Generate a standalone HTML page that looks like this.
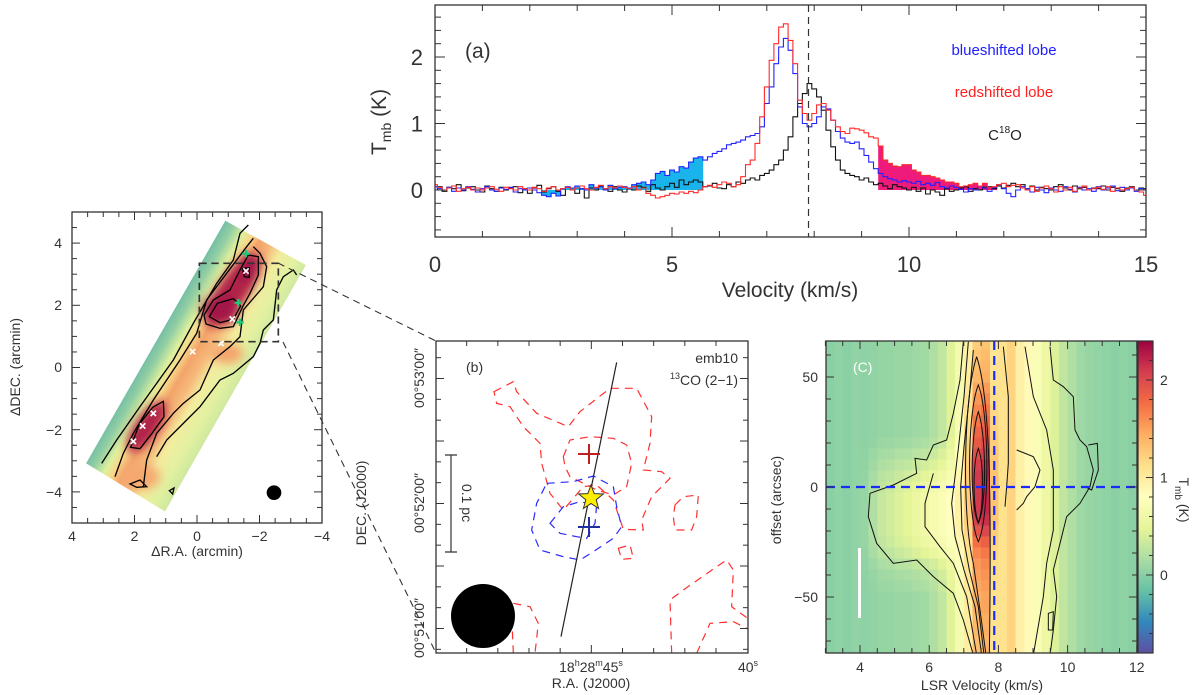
<!DOCTYPE html>
<html><head><meta charset="utf-8"><style>
html,body{margin:0;padding:0;background:#fff;}
svg{display:block;font-family:"Liberation Sans",sans-serif;}
</style></head><body>
<svg id="fig" width="1200" height="695" viewBox="0 0 1200 695" xmlns="http://www.w3.org/2000/svg">
<defs>
 <clipPath id="clipA"><rect x="435" y="5" width="711" height="232"/></clipPath>
 <clipPath id="clipC"><rect x="826" y="341" width="311" height="312"/></clipPath>
 <clipPath id="clipB"><rect x="436" y="341" width="312" height="312"/></clipPath>
 <clipPath id="stripClip"><polygon points="258,790 676,62 918,195 495,935"/></clipPath>
 <linearGradient id="stripGrad" gradientUnits="userSpaceOnUse" x1="462" y1="420" x2="712" y2="565">
  <stop offset="0" stop-color="#6fbca6"/><stop offset="0.12" stop-color="#92cea3"/>
  <stop offset="0.24" stop-color="#dcf09e"/><stop offset="0.33" stop-color="#f9d98a"/>
  <stop offset="0.43" stop-color="#f3a46a"/><stop offset="0.55" stop-color="#f6b97a"/>
  <stop offset="0.68" stop-color="#f3ec9f"/><stop offset="0.85" stop-color="#e2f1a0"/>
  <stop offset="1" stop-color="#cde8a0"/>
 </linearGradient>
 <filter id="blur8"><feGaussianBlur stdDeviation="14"/></filter>
 <linearGradient id="cbGrad" x1="0" y1="1" x2="0" y2="0">
  <stop offset="0" stop-color="#5e4fa2"/><stop offset="0.1" stop-color="#3288bd"/>
  <stop offset="0.2" stop-color="#66c2a5"/><stop offset="0.3" stop-color="#abdda4"/>
  <stop offset="0.4" stop-color="#e6f598"/><stop offset="0.5" stop-color="#ffffbf"/>
  <stop offset="0.6" stop-color="#fee08b"/><stop offset="0.7" stop-color="#fdae61"/>
  <stop offset="0.8" stop-color="#f46d43"/><stop offset="0.9" stop-color="#d53e4f"/>
  <stop offset="1" stop-color="#9e0142"/>
 </linearGradient>
</defs>

<!-- LEFT MAP -->
<g>
 <g transform="translate(0,200) scale(0.33333)">
  <g clip-path="url(#stripClip)">
   <polygon points="258,790 676,62 918,195 495,935" fill="url(#stripGrad)"/>
   <g filter="url(#blur8)">
    <ellipse cx="700" cy="270" rx="45" ry="130" transform="rotate(35 700 270)" fill="#b0204a"/>
    <ellipse cx="660" cy="330" rx="55" ry="45" fill="#a3154a"/>
    <ellipse cx="745" cy="205" rx="30" ry="45" fill="#a3154a"/>
    <ellipse cx="440" cy="680" rx="35" ry="90" transform="rotate(35 440 680)" fill="#b0204a"/>
    <ellipse cx="420" cy="830" rx="60" ry="40" fill="#f5a870"/>
    <ellipse cx="680" cy="460" rx="50" ry="30" fill="#f4a26c"/>
   </g>
  </g>
  <g fill="none" stroke="#000" stroke-width="4">
   <path d="M305,790 L350,720 L420,620 L520,480 L580,370 L650,250 L700,180 L720,100 L745,75"/>
   <path d="M345,830 L370,760 L400,700 L460,600 L540,480 L590,400 L620,300 L680,220 L740,140 L760,115"/>
   <path d="M430,860 L440,780 L470,700 L520,640 L550,610 L600,570 L640,480 L690,440 L720,410 L730,330 L790,260 L800,200 L780,160 L760,140"/>
   <path d="M470,770 L500,720 L560,660 L600,620 L660,540 L700,520 L760,470 L780,430 L790,390 L820,360 L830,270 L850,230 L880,210 L890,225"/>
   <path d="M612,345 L640,300 L690,270 L720,210 L745,165 L775,170 L775,225 L750,280 L728,320 L700,380 L660,385 L618,372 Z"/>
   <path d="M628,350 L652,310 L700,296 L722,318 L700,358 L660,368 Z"/>
   <path d="M733,230 L728,206 L748,203 L748,232 Z"/>
   <path d="M392,742 L418,672 L458,622 L490,604 L492,650 L456,700 L420,746 Z"/>
   <path d="M390,852 L420,840 L440,860 L410,862 Z"/>
   <path d="M508,872 L522,864 L518,882 Z"/>
  </g>
  <g stroke="#fff" stroke-width="5">
   <path d="M730,205l16,16M746,205l-16,16"/><path d="M689,349l16,16M705,349l-16,16"/>
   <path d="M655,422l16,16M671,422l-16,16"/><path d="M570,447l16,16M586,447l-16,16"/>
   <path d="M452,632l16,16M468,632l-16,16"/><path d="M420,670l16,16M436,670l-16,16"/>
   <path d="M392,716l16,16M408,716l-16,16"/>
  </g>
  <g stroke="#1ec87a" stroke-width="7">
   <path d="M738,150v22M727,161h22"/><path d="M715,297v22M704,308h22"/><path d="M720,356v22M709,367h22"/>
  </g>
  <circle cx="822" cy="878" r="22" fill="#000"/>
  <rect x="598" y="190" width="237" height="235" fill="none" stroke="#333" stroke-width="5" stroke-dasharray="22,14"/>
 </g>
 <rect x="72" y="212" width="250" height="311" fill="none" stroke="#333" stroke-width="1.3"/>
 <g id="mapTicks" stroke="#333" stroke-width="1"></g>
 <g font-size="14" fill="#333" text-anchor="middle">
  <text x="72" y="541">4</text><text x="134.5" y="541">2</text><text x="197" y="541">0</text><text x="259.5" y="541">−2</text><text x="322" y="541">−4</text>
 </g>
 <g font-size="14" fill="#333" text-anchor="end">
  <text x="62" y="248">4</text><text x="62" y="310">2</text><text x="62" y="372">0</text><text x="62" y="435">−2</text><text x="62" y="497">−4</text>
 </g>
 <text x="197" y="556" font-size="14" fill="#333" text-anchor="middle">ΔR.A. (arcmin)</text>
 <text transform="translate(20,367) rotate(-90)" font-size="14" fill="#333" text-anchor="middle">ΔDEC. (arcmin)</text>
</g>
<g stroke="#333" stroke-width="1.1" stroke-dasharray="7,5">
 <line x1="278" y1="263" x2="436" y2="341"/><line x1="283" y1="342" x2="436" y2="653"/>
</g>

<!-- PANEL A -->
<g>
 <g id="specFills" clip-path="url(#clipA)"></g>
 <g id="specLines" clip-path="url(#clipA)" fill="none" stroke-width="1.1"></g>
 <rect x="435" y="5" width="711" height="232" fill="none" stroke="#333" stroke-width="1.3"/>
 <g id="aTicks" stroke="#333" stroke-width="1"></g>
 <g id="aLabels" font-size="22" fill="#333"></g>
 <text x="790" y="297" font-size="21" fill="#333" text-anchor="middle">Velocity (km/s)</text>
 <text transform="translate(386,122) rotate(-90)" font-size="21" fill="#333" text-anchor="middle">T<tspan font-size="14" dy="5">mb</tspan><tspan dy="-5"> (K)</tspan></text>
 <text x="465" y="58" font-size="21" fill="#333">(a)</text>
 <text x="1004" y="55" font-size="15" fill="#2020ff" text-anchor="middle">blueshifted lobe</text>
 <text x="1004" y="97" font-size="15" fill="#ff2020" text-anchor="middle">redshifted lobe</text>
 <text x="1005" y="140" font-size="15" fill="#222" text-anchor="middle">C<tspan font-size="10" dy="-7">18</tspan><tspan dy="7">O</tspan></text>
</g>

<!-- PANEL B -->
<g>
 <g clip-path="url(#clipB)">
 <g transform="translate(350,330) scale(0.33333)" fill="none" stroke-width="1.2">
  <g stroke="#ff3030" stroke-dasharray="8,6">
   <path vector-effect="non-scaling-stroke" d="M432,185 L490,155 L500,185 L560,250 L655,290 L690,245 L780,175 L860,175 L905,260 L900,340 L880,420 L935,425 L960,445 L905,500 L875,570 L880,600 L820,598 L790,510 L740,465 L700,470 L640,540 L600,490 L575,400 L570,340 L520,290 L480,230 L440,220 Z"/>
   <path vector-effect="non-scaling-stroke" d="M640,380 L660,330 L720,320 L790,325 L830,345 L845,400 L830,470 L790,495 L740,480 L700,460 L660,440 L645,410 Z"/>
   <path vector-effect="non-scaling-stroke" d="M975,525 L1000,500 L1045,495 L1040,560 L1025,600 L975,600 L970,560 Z"/>
   <path vector-effect="non-scaling-stroke" d="M805,655 L840,645 L850,685 L815,688 Z"/>
   <path vector-effect="non-scaling-stroke" d="M965,970 L960,810 L1000,780 L1100,710 L1130,690 L1150,720 L1145,830 L1200,870"/>
   <path vector-effect="non-scaling-stroke" d="M1040,970 L1080,880 L1150,875 L1200,900"/>
   <path vector-effect="non-scaling-stroke" d="M490,820 L540,830 L565,880 L555,970"/>
   <path vector-effect="non-scaling-stroke" d="M490,970 L487,900"/>
  </g>
  <g stroke="#2a2aff" stroke-dasharray="8,6">
   <path vector-effect="non-scaling-stroke" d="M590,460 L670,455 L730,438 L790,470 L800,530 L815,590 L790,625 L730,665 L690,690 L640,680 L570,660 L545,600 L560,520 Z"/>
   <path vector-effect="non-scaling-stroke" d="M600,580 L640,530 L690,515 L740,525 L735,580 L710,625 L680,620 L630,610 Z"/>
  </g>
  <line x1="800" y1="97" x2="633" y2="920" stroke="#222" vector-effect="non-scaling-stroke"/>
 </g>
 </g>
 <g stroke-width="2">
  <path d="M589,444v20M578,454h22" stroke="#c02020"/>
  <path d="M589,517v20M578,527h22" stroke="#2030a0"/>
 </g>
 <polygon id="star" fill="#ffee00" stroke="#333" stroke-width="1"/>
 <circle cx="483" cy="616" r="32" fill="#000"/>
 <g stroke="#333" stroke-width="1.2"><path d="M451,455v97M445,455h12M445,552h12"/></g>
 <text transform="translate(462,503) rotate(90)" font-size="14" fill="#333" text-anchor="middle">0.1 pc</text>
 <rect x="436" y="341" width="312" height="312" fill="none" stroke="#333" stroke-width="1.3"/>
 <g id="bTicks" stroke="#333" stroke-width="1"></g>
 <text x="466" y="372" font-size="14" fill="#333">(b)</text>
 <text x="738" y="363" font-size="14" fill="#333" text-anchor="end">emb10</text>
 <text x="738" y="385" font-size="14" fill="#333" text-anchor="end"><tspan font-size="9" dy="-6">13</tspan><tspan dy="6">CO (2−1)</tspan></text>
 <g font-size="14" fill="#333" text-anchor="middle">
  <text transform="translate(424,378) rotate(-90)">00°53′00″</text>
  <text transform="translate(424,503) rotate(-90)">00°52′00″</text>
  <text transform="translate(424,628) rotate(-90)">00°51′00″</text>
 </g>
 <text x="591" y="672" font-size="14" fill="#333" text-anchor="middle">18<tspan font-size="9" dy="-6">h</tspan><tspan dy="6">28</tspan><tspan font-size="9" dy="-6">m</tspan><tspan dy="6">45</tspan><tspan font-size="9" dy="-6">s</tspan></text>
 <text x="748" y="672" font-size="14" fill="#333" text-anchor="middle">40<tspan font-size="9" dy="-6">s</tspan></text>
 <text x="591" y="688" font-size="14" fill="#333" text-anchor="middle">R.A. (J2000)</text>
 <text transform="translate(366,503) rotate(-90)" font-size="14" fill="#333" text-anchor="middle">DEC. (J2000)</text>
</g>

<!-- PANEL C -->
<g>
 <g id="pvCells" clip-path="url(#clipC)" shape-rendering="crispEdges"></g>
 <g clip-path="url(#clipC)">
 <g transform="translate(760,330) scale(0.33333)" fill="none" stroke="#111">
  <path vector-effect="non-scaling-stroke" d="M610,35 L600,150 L580,250 L560,330 L520,345 L500,390 L465,385 L470,430 L400,465 L330,490 L325,560 L350,640 L400,700 L470,690 L520,740 L580,790 L610,870 L640,975"/>
  <path vector-effect="non-scaling-stroke" d="M520,430 L495,520 L495,590 L540,650 L580,700 L620,800 L650,975"/>
  <path vector-effect="non-scaling-stroke" d="M625,35 L612,200 L598,330 L585,440 L575,520 L585,620 L612,720 L645,830 L665,975"/>
  <path vector-effect="non-scaling-stroke" d="M640,60 L628,200 L612,350 L602,470 L606,600 L628,720 L655,830 L672,975"/>
  <path vector-effect="non-scaling-stroke" d="M650,80 C610,200 605,560 640,700 L660,840 L678,975 M650,80 C690,200 695,500 688,975"/>
  <path vector-effect="non-scaling-stroke" d="M655,165 C620,250 620,560 655,635 C690,560 688,250 655,165 Z"/>
  <path vector-effect="non-scaling-stroke" d="M655,245 C630,320 630,530 655,580 C680,530 680,320 655,245 Z"/>
  <path vector-effect="non-scaling-stroke" d="M655,355 C638,400 638,530 655,578 C672,530 672,400 655,355 Z"/>
  <path vector-effect="non-scaling-stroke" d="M730,50 L745,200 L745,400 L740,470 L735,530"/>
  <path vector-effect="non-scaling-stroke" d="M795,50 L820,200 L860,300 L880,420 L880,600 L860,700 L850,800 L820,975"/>
  <path vector-effect="non-scaling-stroke" d="M870,50 L880,150 L910,170 L940,200 L945,300 L960,330 L980,350 L1000,420 L990,470 L960,520 L920,560 L900,640 L880,720 L890,800 L880,900 L870,975"/>
  <path vector-effect="non-scaling-stroke" d="M770,360 L820,380 L840,420 L825,470 L800,500 L790,520 L770,540"/>
  <path vector-effect="non-scaling-stroke" d="M985,345 L1012,340 L1015,420 L995,480 L975,470"/>
  <path vector-effect="non-scaling-stroke" d="M865,850 L880,845 L878,900 L865,900 Z"/>
 </g>
 </g>
 <line x1="826" y1="487" x2="1137" y2="487" stroke="#1a2bff" stroke-width="2.2" stroke-dasharray="9,6"/>
 <line id="vsysLine" x1="0" y1="341" x2="0" y2="653" stroke="#1a2bff" stroke-width="2.2" stroke-dasharray="9,6"/>
 <line x1="859.5" y1="548" x2="859.5" y2="618" stroke="#fff" stroke-width="3"/>
 <text x="853" y="372" font-size="14" fill="#fff">(C)</text>
 <rect x="826" y="341" width="311" height="312" fill="none" stroke="#333" stroke-width="1.3"/>
 <rect x="1138" y="341" width="15" height="312" fill="url(#cbGrad)" stroke="#333" stroke-width="1.2"/>
 <g id="cTicks" stroke="#333" stroke-width="1"></g>
 <g id="cLabels" font-size="14" fill="#333"></g>
 <text x="982" y="690" font-size="14" fill="#333" text-anchor="middle">LSR Velocity (km/s)</text>
 <text transform="translate(781,500) rotate(-90)" font-size="14" fill="#333" text-anchor="middle">offset (arcsec)</text>
 <text transform="translate(1179,500) rotate(90)" font-size="14" fill="#333" text-anchor="middle">T<tspan font-size="10" dy="4">mb</tspan><tspan dy="-4"> (K)</tspan></text>
</g>
</svg>
<script>
// ---------- Panel (a) spectra data: channels v = 0.0 .. 15.0 step 0.1 ----------
const specStart = 0, specStep = 0.1;
const blueSpec = [0.05,0.02,0.0,0.04,-0.02,0.03,0.0,0.05,0.01,-0.03,
0.02,0.05,0.0,-0.02,0.03,0.01,0.04,-0.03,0.02,0.0,
0.03,0.0,-0.04,-0.08,-0.1,-0.05,-0.09,0.02,0.05,0.03,
0.06,0.02,0.0,0.08,0.03,0.05,0.0,0.07,0.02,0.04,
0.05,0.03,0.08,0.1,0.12,0.08,0.15,0.25,0.28,0.22,
0.3,0.27,0.35,0.33,0.42,0.48,0.5,0.45,0.5,0.55,
0.58,0.62,0.68,0.7,0.72,0.75,0.8,0.82,0.85,0.95,
1.3,1.55,1.9,2.15,2.28,2.1,1.75,1.25,1.0,0.95,
1.0,1.1,1.25,1.22,1.05,0.88,0.78,0.72,0.7,0.72,
0.62,0.52,0.42,0.32,0.25,0.2,0.17,0.15,0.12,0.14,
0.12,0.1,0.13,0.08,0.1,0.07,0.11,0.05,0.03,0.06,
0.04,0.01,-0.03,0.02,0.0,0.06,0.03,-0.02,0.04,0.08,
0.02,-0.05,-0.1,0.0,0.05,0.02,-0.03,0.04,0.0,-0.04,
0.03,0.0,-0.02,0.05,0.01,-0.03,0.04,0.0,0.02,-0.02,
0.05,0.0,0.03,0.06,-0.01,0.04,0.0,0.03,-0.02,0.02,0.0];
const redSpec = [0.08,0.04,0.0,0.03,0.06,-0.02,0.02,0.04,0.0,0.03,
0.0,0.03,0.05,0.01,-0.02,0.04,0.02,0.0,0.05,0.02,
0.0,0.04,0.02,-0.02,0.03,0.05,0.0,0.02,0.04,0.0,
0.03,0.06,0.02,0.0,0.04,0.07,0.02,0.05,0.03,0.06,
0.04,0.02,0.05,0.0,0.03,-0.05,-0.08,-0.12,-0.1,-0.08,
-0.05,-0.06,-0.03,-0.05,-0.02,-0.04,0.0,0.05,0.07,0.04,
0.08,0.12,0.1,0.05,0.08,0.2,0.38,0.45,0.7,1.1,
1.55,1.95,2.2,2.45,2.5,2.25,1.9,1.35,1.15,1.05,
1.15,1.28,1.3,1.2,1.05,0.95,0.88,0.85,0.93,0.92,
0.9,0.86,0.8,0.78,0.66,0.45,0.4,0.36,0.35,0.38,
0.38,0.3,0.27,0.22,0.22,0.2,0.18,0.15,0.12,0.12,
0.1,0.05,0.06,0.08,0.1,0.06,0.1,0.04,0.05,0.08,
0.1,0.05,0.07,0.08,0.03,0.0,0.05,-0.02,0.03,0.06,
0.02,-0.03,0.05,0.0,0.04,-0.02,0.03,0.06,0.0,0.02,
0.04,0.01,0.05,-0.02,0.03,0.0,0.02,0.04,0.0,-0.03,-0.08];
const c18oSpec = [0.0,0.05,-0.02,0.04,0.02,0.08,-0.01,0.03,0.05,0.0,
-0.03,0.06,0.02,-0.02,0.04,0.0,0.03,0.05,-0.04,0.02,
-0.05,0.03,0.07,-0.03,0.02,0.05,-0.02,-0.08,0.04,0.0,
-0.05,0.02,-0.12,0.03,0.0,0.06,0.02,-0.02,0.05,0.0,
-0.03,0.03,0.0,0.06,0.04,-0.02,0.08,0.03,0.0,0.05,
0.1,0.04,0.15,0.08,0.12,0.15,0.12,0.05,0.06,0.1,
0.03,0.02,0.08,0.05,0.12,0.1,0.15,0.18,0.15,0.22,
0.25,0.3,0.38,0.45,0.6,0.8,1.1,1.3,1.45,1.6,
1.52,1.4,1.2,0.9,0.65,0.45,0.3,0.25,0.22,0.2,
0.15,0.18,0.12,0.08,0.1,0.06,0.02,0.08,0.05,0.03,
0.0,0.04,-0.02,0.03,-0.06,0.0,-0.03,-0.08,0.02,-0.02,
0.0,0.03,0.05,-0.02,0.02,0.0,0.04,0.05,0.02,0.06,
0.03,0.07,0.1,0.05,0.08,0.02,0.06,0.0,0.04,0.02,
0.0,0.05,0.08,0.03,0.0,0.06,0.02,0.04,0.0,0.03,
0.02,0.06,0.0,0.04,0.02,-0.02,0.03,0.05,0.0,0.03,0.02];
const blueWindow = [2.3, 5.6];
const redWindow = [9.4, 11.8];
const vsys = 7.88;
const aXTicks = [0,5,10,15];
const aYTicks = [0,1,2];

const NS='http://www.w3.org/2000/svg';
function mk(tag, attrs, parent){const e=document.createElementNS(NS,tag);for(const k in attrs)e.setAttribute(k,attrs[k]);if(parent)parent.appendChild(e);return e;}
const ax = v => 435 + (v - 0) * (711/15);
const ay = t => 190 - t * 66.5;

const fills = document.getElementById('specFills');
function drawFill(arr, win, color, name){
  arr.forEach((t,i)=>{
    const v = specStart + i*specStep;
    if (v < win[0]-1e-6 || v > win[1]+1e-6) return;
    const x0 = ax(v-specStep/2), x1 = ax(v+specStep/2);
    const r = mk('rect',{x:x0,y:Math.min(ay(t),ay(0)),width:x1-x0+0.4,height:Math.abs(ay(t)-ay(0)),fill:color},fills);
    
    
  });
}
drawFill(blueSpec, blueWindow, '#19b4ec', 'blue-lobe-fill');
drawFill(redSpec, redWindow, '#ee1a7c', 'red-lobe-fill');

const lines = document.getElementById('specLines');
function stepPath(arr){
  let d='';
  arr.forEach((t,i)=>{
    const v = specStart + i*specStep;
    const x0=ax(v-specStep/2), x1=ax(v+specStep/2), y=ay(t);
    d += (i===0?'M':'L')+x0.toFixed(1)+','+y.toFixed(1)+'L'+x1.toFixed(1)+','+y.toFixed(1);
  });
  return d;
}
const pC = mk('path',{d:stepPath(c18oSpec),stroke:'#111'},lines);


const pB = mk('path',{d:stepPath(blueSpec),stroke:'#2222ff'},lines);


const pR = mk('path',{d:stepPath(redSpec),stroke:'#ff2a2a'},lines);


const vl = mk('line',{x1:ax(vsys),x2:ax(vsys),y1:5,y2:237,stroke:'#333','stroke-width':1.2,'stroke-dasharray':'7,5'},document.getElementById('fig'));



const aT = document.getElementById('aTicks');
for(let v=0; v<=15; v+=1){const L=(v%5===0)?10:6; mk('line',{x1:ax(v),x2:ax(v),y1:237,y2:237-L},aT); mk('line',{x1:ax(v),x2:ax(v),y1:5,y2:5+L},aT);}
for(let k=-3;k<=13;k++){const t=k*0.2; const y=ay(t); if(y<5||y>237)continue; const L=(k%5===0)?10:6; mk('line',{x1:435,x2:435+L,y1:y,y2:y},aT); mk('line',{x1:1146,x2:1146-L,y1:y,y2:y},aT);}
const aL = document.getElementById('aLabels');
aXTicks.forEach(v=>{const t=mk('text',{x:ax(v),y:272,'text-anchor':'middle'},aL); t.textContent=v;
   });
aYTicks.forEach(v=>{const t=mk('text',{x:423,y:ay(v)+8,'text-anchor':'end'},aL); t.textContent=v;
   });

const mT=document.getElementById('mapTicks');
for(let k=-8;k<=8;k++){const x=197-k*0.5*31.25; const L=(k%4===0)?8:5; mk('line',{x1:x,x2:x,y1:523,y2:523-L},mT); mk('line',{x1:x,x2:x,y1:212,y2:212+L},mT);}
for(let k=-10;k<=9;k++){const y=367.5-k*0.5*31.1; if(y<212||y>523)continue; const L=(k%4===0)?8:5; mk('line',{x1:72,x2:72+L,y1:y,y2:y},mT); mk('line',{x1:322,x2:322-L,y1:y,y2:y},mT);}

const bT=document.getElementById('bTicks');
for(let k=0;k<15;k++){const y=330+(83+k*62.5)/3; const L=(k%3===1)?8:5; mk('line',{x1:436,x2:436+L,y1:y,y2:y},bT); mk('line',{x1:748,x2:748-L,y1:y,y2:y},bT);}
for(let k=0;k<9;k++){const x=350+(350+k*93.5)/3; const L=(k===4)?8:5; mk('line',{x1:x,x2:x,y1:653,y2:653-L},bT); mk('line',{x1:x,x2:x,y1:341,y2:341+L},bT);}
(function(){let pts=[];const cx=591,cy=498;for(let i=0;i<10;i++){const r=i%2?5.5:13;const a=-Math.PI/2+i*Math.PI/5;pts.push((cx+r*Math.cos(a)).toFixed(1)+','+(cy+r*Math.sin(a)).toFixed(1));}document.getElementById('star').setAttribute('points',pts.join(' '));})();

// ---------- Panel (c) PV diagram data ----------
const pvVel = [3.0,3.25,3.5,3.75,4.0,4.25,4.5,4.75,5.0,5.25,5.5,5.75,6.0,6.25,6.5,6.75,7.0,7.25,7.5,7.75,8.0,8.25,8.5,8.75,9.0,9.25,9.5,9.75,10.0,10.25,10.5,10.75,11.0,11.25,11.5,11.75];
const pvBase = [0.0,0.03,0.0,0.04,0.02,0.04,0.06,0.06,0.08,0.08,0.1,0.12,0.18,0.28,0.45,0.65,0.95,1.25,1.3,1.05,1.1,1.2,0.95,0.85,0.72,0.58,0.42,0.27,0.18,0.1,0.07,0.05,0.03,0.01,0.03,0.01];
const pvWing = [0,0,0,0,0.05,0.15,0.25,0.3,0.35,0.4,0.45,0.5,0.5,0.45,0.35,0.2,0,0,0,0,0,0,0,0,0,0,0,0,0,0,0,0,0,0,0,0];
const pvCore = [0,0,0,0,0,0,0,0,0,0,0,0,0,0,0,0.1,0.3,0.85,0.9,0.25,0,0,0,0,0,0,0,0,0,0,0,0,0,0,0,0];
const pvOffset = [65,60,55,50,45,40,35,30,25,20,15,10,5,0,-5,-10,-15,-20,-25,-30,-35,-40,-45,-50,-55,-60,-65,-70,-75];
const rowCore = [0,0.05,0.1,0.15,0.25,0.35,0.45,0.55,0.65,0.75,0.85,0.95,1,1,1,1,0.95,0.8,0.6,0.45,0.35,0.3,0.25,0.2,0.2,0.15,0.15,0.1,0.1];
const rowWing = [0,0,0,0,0,0,0,0,0,0.1,0.3,0.5,0.7,0.9,1,1,1,1,0.9,0.7,0.4,0.2,0.1,0,0,0,0,0,0];
const cXTicks=[4,6,8,10,12], cYTicks=[50,0,-50], cbTicks=[0,1,2];
const pvVsys = 7.88;

const cx_ = v => 860 + (v-4)*34.6;
const cy_ = o => 487 - o*2.2;
const cbY = t => 575 - t*97.5;
const cmStops=[[-0.8,'#5e4fa2'],[-0.48,'#3288bd'],[-0.16,'#66c2a5'],[0.16,'#abdda4'],[0.48,'#e6f598'],[0.8,'#ffffbf'],[1.12,'#fee08b'],[1.44,'#fdae61'],[1.76,'#f46d43'],[2.08,'#d53e4f'],[2.4,'#9e0142']];
function hex(c){return [1,3,5].map(i=>parseInt(c.substr(i,2),16));}
function cmap(t){t=Math.max(-0.8,Math.min(2.4,t));for(let i=0;i<cmStops.length-1;i++){const a=cmStops[i],b=cmStops[i+1];if(t<=b[0]){const f=(t-a[0])/(b[0]-a[0]);const A=hex(a[1]),B=hex(b[1]);return 'rgb('+A.map((x,j)=>Math.round(x+(B[j]-x)*f)).join(',')+')';}}return cmStops[cmStops.length-1][1];}
const cells=document.getElementById('pvCells');
pvOffset.forEach((o,r)=>{
  pvVel.forEach((v,c)=>{
    const val = pvBase[c] + pvWing[c]*rowWing[r] + pvCore[c]*rowCore[r];
    const x0=cx_(v), x1=cx_(v+0.25), y0=cy_(o+2.5), y1=cy_(o-2.5);
    const cell=mk('rect',{x:x0,y:y0,width:x1-x0+0.5,height:y1-y0+0.5,fill:cmap(val)},cells);
    
    
  });
});
const vs=document.getElementById('vsysLine'); vs.setAttribute('x1',cx_(pvVsys)); vs.setAttribute('x2',cx_(pvVsys));

const cT=document.getElementById('cTicks');
for(let v=3;v<=12;v+=0.5){const x=cx_(v);const L=(Math.abs(v%2)<1e-6)?8:5; mk('line',{x1:x,x2:x,y1:653,y2:653-L},cT); mk('line',{x1:x,x2:x,y1:341,y2:341+L},cT);}
for(let o=-70;o<=60;o+=10){const y=cy_(o);const L=(o%50===0)?8:5; mk('line',{x1:826,x2:826+L,y1:y,y2:y},cT); mk('line',{x1:1137,x2:1137-L,y1:y,y2:y},cT);}
for(let k=-4;k<=12;k++){const y=cbY(k*0.2); if(y<341||y>653)continue; const L=(k%5===0)?7:4; mk('line',{x1:1153,x2:1153-L,y1:y,y2:y},cT);}
const cL=document.getElementById('cLabels');
cXTicks.forEach(v=>{const t=mk('text',{x:cx_(v),y:672,'text-anchor':'middle'},cL);t.textContent=v;
   });
cYTicks.forEach(o=>{const t=mk('text',{x:818,y:cy_(o)+5,'text-anchor':'end'},cL);t.textContent=(o<0?'−'+(-o):o);
   });
cbTicks.forEach(k=>{const t=mk('text',{x:1160,y:cbY(k)+5},cL);t.textContent=k;
   });
</script>
</body></html>
